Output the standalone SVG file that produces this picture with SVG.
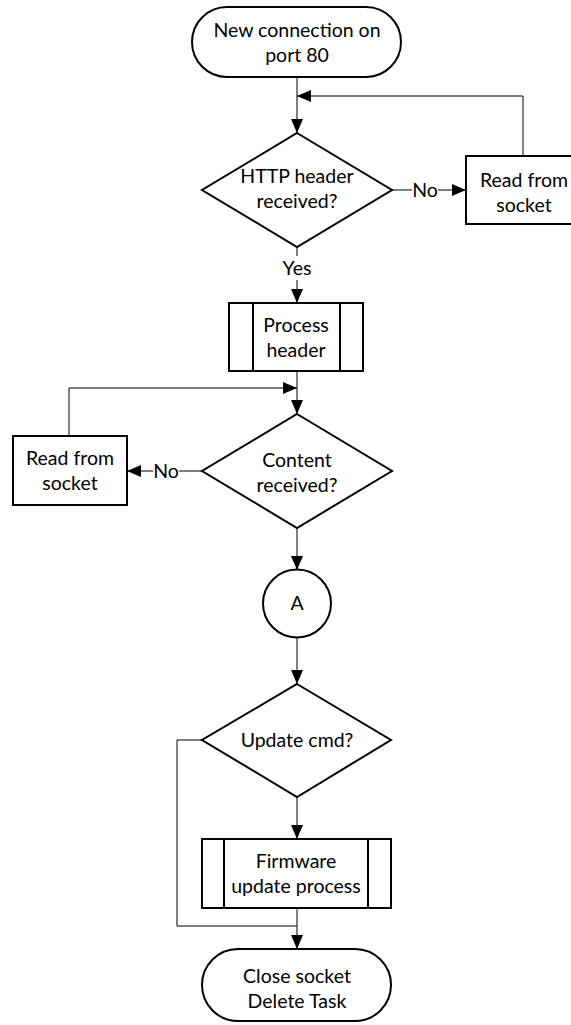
<svg xmlns="http://www.w3.org/2000/svg" width="571" height="1025" viewBox="0 0 571 1025">
  <style>
    .shape { fill: #fff; stroke: #000; stroke-width: 2; }
    .conn { fill: none; stroke: #000; stroke-width: 1; }
    .lbl { font-family: "Lato", "Liberation Sans", sans-serif; font-size: 19.5px; fill: #000; text-anchor: middle; }
    .bg { fill: #fff; stroke: none; }
  </style>
  <defs>
    <marker id="arrow" markerUnits="userSpaceOnUse" markerWidth="14" markerHeight="12" refX="14" refY="6" orient="auto">
      <path d="M0,0 L14,6 L0,12 z" fill="#000"/>
    </marker>
  </defs>

  <!-- connectors -->
  <g id="connectors">
    <path class="conn" d="M297,77 V133" marker-end="url(#arrow)"/>
    <path class="conn" d="M523,156 V96 H297" marker-end="url(#arrow)"/>
    <path class="conn" d="M392,190 H466" marker-end="url(#arrow)"/>
    <path class="conn" d="M297,247 V303" marker-end="url(#arrow)"/>
    <path class="conn" d="M297,371 V414" marker-end="url(#arrow)"/>
    <path class="conn" d="M69,436 V388 H297" marker-end="url(#arrow)"/>
    <path class="conn" d="M202,471 H127" marker-end="url(#arrow)"/>
    <path class="conn" d="M297,528 V570" marker-end="url(#arrow)"/>
    <path class="conn" d="M297,637 V684" marker-end="url(#arrow)"/>
    <path class="conn" d="M297,797 V839" marker-end="url(#arrow)"/>
    <path class="conn" d="M297,908 V949" marker-end="url(#arrow)"/>
    <path class="conn" d="M202,740 H177 V926 H297"/>
    <!-- connector labels -->
    <rect class="bg" x="412" y="180" width="26" height="20"/>
    <text class="lbl" x="425" y="197">No</text>
    <rect class="bg" x="283" y="256" width="28" height="24"/>
    <text class="lbl" x="297" y="275">Yes</text>
    <rect class="bg" x="153" y="461" width="26" height="20"/>
    <text class="lbl" x="166" y="478">No</text>
  </g>

  <g id="start">
    <rect class="shape" x="192" y="7" width="209" height="70" rx="35" ry="35"/>
    <text class="lbl" x="297" y="37">New connection on</text>
    <text class="lbl" x="297" y="62">port 80</text>
  </g>

  <g id="http-header-received">
    <polygon class="shape" points="297,133 392,190 297,247 202,190"/>
    <text class="lbl" x="297" y="183">HTTP header</text>
    <text class="lbl" x="297" y="208">received?</text>
  </g>

  <g id="read-socket-1">
    <rect class="shape" x="466" y="156" width="116" height="68"/>
    <text class="lbl" x="524" y="187">Read from</text>
    <text class="lbl" x="524" y="212">socket</text>
  </g>

  <g id="process-header">
    <rect class="shape" x="229" y="303" width="134" height="68"/>
    <line class="shape" x1="253" y1="303" x2="253" y2="371"/>
    <line class="shape" x1="340" y1="303" x2="340" y2="371"/>
    <text class="lbl" x="296" y="332">Process</text>
    <text class="lbl" x="296" y="357">header</text>
  </g>

  <g id="content-received">
    <polygon class="shape" points="297,414 392,471 297,528 202,471"/>
    <text class="lbl" x="297" y="467">Content</text>
    <text class="lbl" x="297" y="492">received?</text>
  </g>

  <g id="read-socket-2">
    <rect class="shape" x="13" y="436" width="114" height="69"/>
    <text class="lbl" x="70" y="465">Read from</text>
    <text class="lbl" x="70" y="490">socket</text>
  </g>

  <g id="connector-a">
    <circle class="shape" cx="297" cy="603.5" r="34"/>
    <text class="lbl" x="297" y="610">A</text>
  </g>

  <g id="update-cmd">
    <polygon class="shape" points="297,684 391,740 297,797 202,740"/>
    <text class="lbl" x="297" y="747">Update cmd?</text>
  </g>

  <g id="firmware-update">
    <rect class="shape" x="202" y="839" width="189" height="69"/>
    <line class="shape" x1="224" y1="839" x2="224" y2="908"/>
    <line class="shape" x1="368" y1="839" x2="368" y2="908"/>
    <text class="lbl" x="296" y="868">Firmware</text>
    <text class="lbl" x="296" y="893">update process</text>
  </g>

  <g id="end">
    <rect class="shape" x="202" y="949" width="189" height="72" rx="36" ry="36"/>
    <text class="lbl" x="297" y="983">Close socket</text>
    <text class="lbl" x="297" y="1008">Delete Task</text>
  </g>
</svg>
